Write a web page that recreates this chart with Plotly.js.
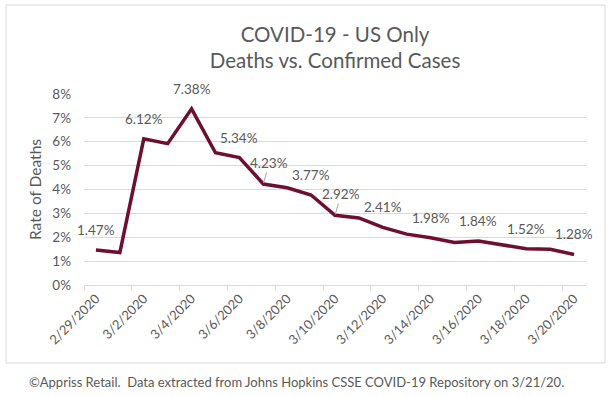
<!DOCTYPE html>
<html>
<head>
<meta charset="utf-8">
<script src="https://cdn.plot.ly/plotly-3.0.1.min.js"></script>
<style>html,body{margin:0;padding:0;background:#fff;}#chart{width:614px;height:397px;}</style>
</head>
<body>
<div id="chart"></div>
<script>
// Data
const dates = ["2/29/2020","3/1/2020","3/2/2020","3/3/2020","3/4/2020","3/5/2020","3/6/2020","3/7/2020","3/8/2020","3/9/2020","3/10/2020","3/11/2020","3/12/2020","3/13/2020","3/14/2020","3/15/2020","3/16/2020","3/17/2020","3/18/2020","3/19/2020","3/20/2020"];
const deathRate = [0.0147,0.0136,0.0612,0.0592,0.0738,0.0554,0.0534,0.0423,0.0407,0.0377,0.0292,0.0281,0.0241,0.0213,0.0198,0.0178,0.0184,0.0168,0.0152,0.0150,0.0128];
const labeledIdx = [0,2,4,6,7,9,10,12,14,16,18,20];
const leaderIdx = [7,10];
const tickDates = dates.filter((d,i)=>i%2===0);
const yTicks = [0,0.01,0.02,0.03,0.04,0.05,0.06,0.07,0.08];

const font = "Lato, 'Open Sans', sans-serif";
const gray = "#595959";

const xIdx = dates.map((d,i)=>i);

const trace = {
  x: xIdx, y: deathRate, type: "scatter", mode: "lines",
  line: {color: "#6E0F32", width: 3.5, shape: "linear"},
  hoverinfo: "skip", showlegend: false
};

const annotations = labeledIdx.map(i => {
  const lead = leaderIdx.includes(i);
  const txt = (deathRate[i]*100).toFixed(2) + "%";
  if (lead) {
    return {x: i, y: deathRate[i], xref: "x", yref: "y", text: txt,
      showarrow: true, arrowhead: 0, arrowwidth: 1, arrowcolor: "#A6A6A6",
      ax: 6, ay: -21, standoff: 1,
      font: {family: font, size: 13.5, color: gray}};
  }
  return {x: i, y: deathRate[i], xref: "x", yref: "y", text: txt,
    showarrow: false, yshift: 20,
    font: {family: font, size: 13.5, color: gray}};
});

annotations.push({
  xref: "paper", yref: "paper", x: 0.424, y: -0.508,
  text: "©Appriss Retail.  Data extracted from Johns Hopkins CSSE COVID-19 Repository on 3/21/20.",
  showarrow: false, xanchor: "center", yanchor: "middle",
  font: {family: font, size: 13, color: gray}
});

const layout = {
  width: 614, height: 397,
  margin: {l: 84, r: 28, t: 94, b: 112},
  paper_bgcolor: "#fff", plot_bgcolor: "#fff",
  title: {
    text: "COVID-19 - US Only<br>Deaths vs. Confirmed Cases",
    font: {family: font, size: 20.5, color: gray},
    x: 0.5, xanchor: "center", y: 0.895, yanchor: "top", xref: "paper"
  },
  xaxis: {
    range: [-0.5, 20.5], tickmode: "array",
    tickvals: xIdx.filter(i=>i%2===0), ticktext: tickDates,
    tickangle: -45, ticks: "", showgrid: false, zeroline: false,
    showline: true, linecolor: "#D9D9D9", linewidth: 1,
    tickfont: {family: font, size: 13, color: gray}, fixedrange: true
  },
  xaxis2: {
    overlaying: "x", anchor: "y", side: "bottom",
    range: [-0.5, 20.5], tickmode: "array",
    tickvals: [-0.5,1.5,3.5,5.5,7.5,9.5,11.5,13.5,15.5,17.5,19.5],
    ticks: "outside", ticklen: 5, tickcolor: "#D9D9D9", tickwidth: 1,
    showticklabels: false, showgrid: false, zeroline: false, showline: false
  },
  yaxis: {
    range: [0, 0.08], tickmode: "array", tickvals: yTicks,
    tickformat: ".0%", showgrid: true, gridcolor: "#D9D9D9", gridwidth: 1,
    zeroline: false, showline: false, ticks: "", ticklabelstandoff: 12,
    tickfont: {family: font, size: 13.5, color: gray},
    title: {text: "Rate of Deaths", font: {family: font, size: 15.5, color: gray}, standoff: 6},
    fixedrange: true
  },
  shapes: [{
    type: "rect", xref: "paper", yref: "paper",
    x0: (6-84)/502, x1: (605-84)/502, y0: (285-363)/191, y1: (285-5)/191,
    line: {color: "#D9D9D9", width: 1}, layer: "below"
  }],
  annotations: annotations
};

const trace2 = {x: [0], y: [null], xaxis: "x2", yaxis: "y", type: "scatter", mode: "lines", showlegend: false, hoverinfo: "skip"};

Plotly.newPlot("chart", [trace, trace2], layout, {displayModeBar: false, staticPlot: true});
</script>
</body>
</html>
